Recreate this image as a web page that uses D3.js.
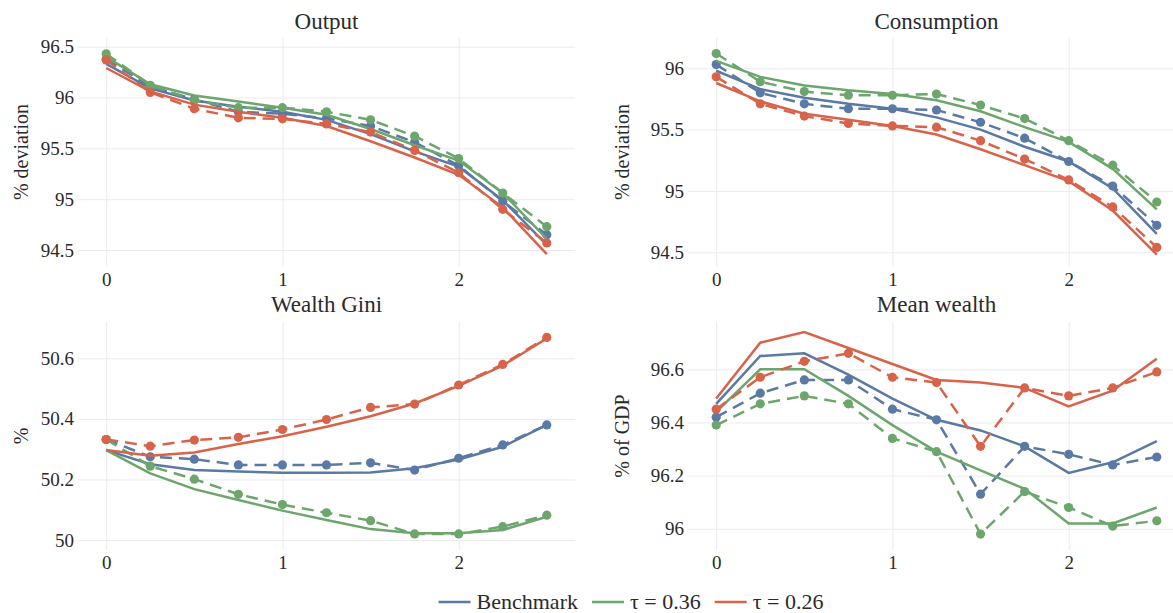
<!DOCTYPE html>
<html>
<head>
<meta charset="utf-8">
<script src="https://cdn.jsdelivr.net/npm/d3@7"></script>
<style>
  body { margin: 0; background: #fff; }
  svg text { font-family: "Liberation Serif", "Tinos", "DejaVu Serif", "Noto Serif", serif; }
</style>
</head>
<body>
<div id="chart"></div>
<script>
var W = 1173, H = 613

// x grid shared by every panel
var xGrid = [0, 0.25, 0.5, 0.75, 1, 1.25, 1.5, 1.75, 2, 2.25, 2.5]
var xTicks = [0, 1, 2]

var seriesNames = ["Benchmark", "τ = 0.36", "τ = 0.26"]
var seriesColors = ["#5a79a5", "#6ca66c", "#d8634b"]

// Output
var outBenchSolid = [96.33, 96.09, 95.97, 95.91, 95.86, 95.78, 95.64, 95.47, 95.32, 94.99, 94.55]
var outBenchDash  = [96.375, 96.11, 95.98, 95.86, 95.84, 95.795, 95.72, 95.56, 95.33, 94.98, 94.65]
var out36Solid    = [96.40, 96.13, 96.02, 95.96, 95.90, 95.83, 95.69, 95.53, 95.38, 95.06, 94.61]
var out36Dash     = [96.43, 96.12, 95.97, 95.90, 95.90, 95.86, 95.78, 95.62, 95.40, 95.06, 94.73]
var out26Solid    = [96.29, 96.06, 95.93, 95.86, 95.80, 95.72, 95.57, 95.41, 95.24, 94.92, 94.46]
var out26Dash     = [96.37, 96.05, 95.89, 95.80, 95.79, 95.74, 95.66, 95.48, 95.26, 94.90, 94.57]
var outTicks = [94.5, 95, 95.5, 96, 96.5]

// Consumption
var conBenchSolid = [95.98, 95.83, 95.76, 95.71, 95.67, 95.60, 95.50, 95.36, 95.24, 95.02, 94.65]
var conBenchDash  = [96.03, 95.80, 95.71, 95.67, 95.67, 95.66, 95.56, 95.43, 95.24, 95.04, 94.72]
var con36Solid    = [96.06, 95.93, 95.86, 95.82, 95.79, 95.74, 95.65, 95.52, 95.40, 95.18, 94.85]
var con36Dash     = [96.12, 95.89, 95.81, 95.78, 95.78, 95.79, 95.70, 95.59, 95.41, 95.21, 94.91]
var con26Solid    = [95.88, 95.73, 95.63, 95.58, 95.53, 95.46, 95.34, 95.21, 95.08, 94.84, 94.48]
var con26Dash     = [95.93, 95.71, 95.61, 95.55, 95.53, 95.52, 95.41, 95.26, 95.09, 94.87, 94.54]
var conTicks = [94.5, 95, 95.5, 96]

// Wealth Gini
var giniBenchSolid = [50.297, 50.250, 50.231, 50.226, 50.222, 50.222, 50.223, 50.237, 50.266, 50.308, 50.380]
var giniBenchDash  = [50.332, 50.275, 50.267, 50.248, 50.248, 50.248, 50.255, 50.231, 50.270, 50.314, 50.380]
var gini36Solid    = [50.297, 50.220, 50.168, 50.132, 50.097, 50.066, 50.036, 50.022, 50.022, 50.033, 50.077]
var gini36Dash     = [50.332, 50.244, 50.201, 50.151, 50.117, 50.090, 50.064, 50.020, 50.020, 50.044, 50.082]
var gini26Solid    = [50.297, 50.278, 50.289, 50.317, 50.343, 50.374, 50.409, 50.451, 50.509, 50.576, 50.666]
var gini26Dash     = [50.332, 50.310, 50.330, 50.339, 50.365, 50.398, 50.438, 50.449, 50.512, 50.580, 50.669]
var giniTicks = [50, 50.2, 50.4, 50.6]

// Mean wealth
var mwBenchSolid = [96.47, 96.65, 96.66, 96.58, 96.49, 96.41, 96.37, 96.31, 96.21, 96.25, 96.33]
var mwBenchDash  = [96.42, 96.51, 96.56, 96.56, 96.45, 96.41, 96.13, 96.31, 96.28, 96.24, 96.27]
var mw36Solid    = [96.44, 96.60, 96.60, 96.50, 96.39, 96.29, 96.22, 96.15, 96.02, 96.02, 96.08]
var mw36Dash     = [96.39, 96.47, 96.50, 96.47, 96.34, 96.29, 95.98, 96.14, 96.08, 96.01, 96.03]
var mw26Solid    = [96.49, 96.70, 96.74, 96.68, 96.62, 96.56, 96.55, 96.53, 96.46, 96.52, 96.64]
var mw26Dash     = [96.45, 96.57, 96.63, 96.66, 96.57, 96.55, 96.31, 96.53, 96.50, 96.53, 96.59]
var mwTicks = [96, 96.2, 96.4, 96.6]

var panels = [
  {title: "Output", ylab: "% deviation", left: 78, top: 37, h: 230, yDom: [94.333, 96.595], ticks: outTicks, titleY: 29,
   solid: [outBenchSolid, out36Solid, out26Solid], dash: [outBenchDash, out36Dash, out26Dash]},
  {title: "Consumption", ylab: "% deviation", left: 688, top: 37, h: 230, yDom: [94.38, 96.255], ticks: conTicks, titleY: 29,
   solid: [conBenchSolid, con36Solid, con26Solid], dash: [conBenchDash, con36Dash, con26Dash]},
  {title: "Wealth Gini", ylab: "%", left: 78, top: 322, h: 228, yDom: [49.967, 50.72], ticks: giniTicks, titleY: 312,
   solid: [giniBenchSolid, gini36Solid, gini26Solid], dash: [giniBenchDash, gini36Dash, gini26Dash]},
  {title: "Mean wealth", ylab: "% of GDP", left: 688, top: 322, h: 228, yDom: [95.92, 96.778], ticks: mwTicks, titleY: 312,
   solid: [mwBenchSolid, mw36Solid, mw26Solid], dash: [mwBenchDash, mw36Dash, mw26Dash]}
]
var panelW = 497

var svg = d3.select("#chart").append("svg")
  .attr("width", W)
  .attr("height", H)

var fmt = d3.format("~g")
var ink = "#2a2a2a"

panels.forEach(function(p) {
  var x = d3.scaleLinear().domain([-0.16, 2.66]).range([0, panelW])
  var y = d3.scaleLinear().domain(p.yDom).range([p.h, 0])

  var g = svg.append("g").attr("transform", "translate(" + p.left + "," + p.top + ")")

  // grid + ticks
  var gx = g.append("g")
    .attr("transform", "translate(0," + p.h + ")")
    .call(d3.axisBottom(x).tickValues(xTicks).tickSize(-p.h).tickPadding(6).tickFormat(fmt))
  var gy = g.append("g")
    .call(d3.axisLeft(y).tickValues(p.ticks).tickSize(-panelW).tickPadding(4).tickFormat(fmt))

  ;[gx, gy].forEach(function(a) {
    a.attr("font-family", null).attr("font-size", null)
    a.select(".domain").remove()
    a.selectAll("line").attr("stroke", "#ebebeb").attr("stroke-width", 1)
    a.selectAll("text").attr("fill", ink).style("font-size", "19px")
  })

  var line = d3.line().x(function(d, i) { return x(xGrid[i]) }).y(function(d) { return y(d) })

  for (var k = 0; k < 3; k++) {
    g.append("path")
      .attr("d", line(p.solid[k]))
      .attr("fill", "none")
      .attr("stroke", seriesColors[k])
      .attr("stroke-width", 2.5)

    g.append("path")
      .attr("d", line(p.dash[k]))
      .attr("fill", "none")
      .attr("stroke", seriesColors[k])
      .attr("stroke-width", 2.5)
      .attr("stroke-dasharray", "12,7")

    g.selectAll(null).data(p.dash[k]).enter().append("circle")
      .attr("cx", function(d, i) { return x(xGrid[i]) })
      .attr("cy", function(d) { return y(d) })
      .attr("r", 4.6)
      .attr("fill", seriesColors[k])
  }

  svg.append("text")
    .attr("x", p.left + panelW / 2)
    .attr("y", p.titleY)
    .attr("text-anchor", "middle")
    .attr("fill", ink)
    .style("font-size", "23px")
    .text(p.title)

  var lx = p.left < 300 ? 21 : 622
  svg.append("text")
    .attr("transform", "translate(" + lx + "," + (p.top + p.h / 2) + ") rotate(-90)")
    .attr("text-anchor", "middle")
    .attr("dominant-baseline", "central")
    .attr("fill", ink)
    .style("font-size", "20px")
    .text(p.ylab)
})

// legend, centred under the panels
var legend = svg.append("g")
var cx = 0
seriesNames.forEach(function(name, k) {
  var it = legend.append("g")
  it.append("line")
    .attr("x1", 0).attr("x2", 32).attr("y1", 0).attr("y2", 0)
    .attr("stroke", seriesColors[k]).attr("stroke-width", 2.5)
  var t = it.append("text")
    .attr("x", 38)
    .attr("dy", "0.33em")
    .attr("fill", ink)
    .style("font-size", "22px")
    .text(name)
  it.attr("transform", "translate(" + cx + ",0)")
  cx += 38 + t.node().getComputedTextLength() + 14
})
cx -= 14
legend.attr("transform", "translate(" + (631 - cx / 2) + ",602)")
</script>
</body>
</html>
